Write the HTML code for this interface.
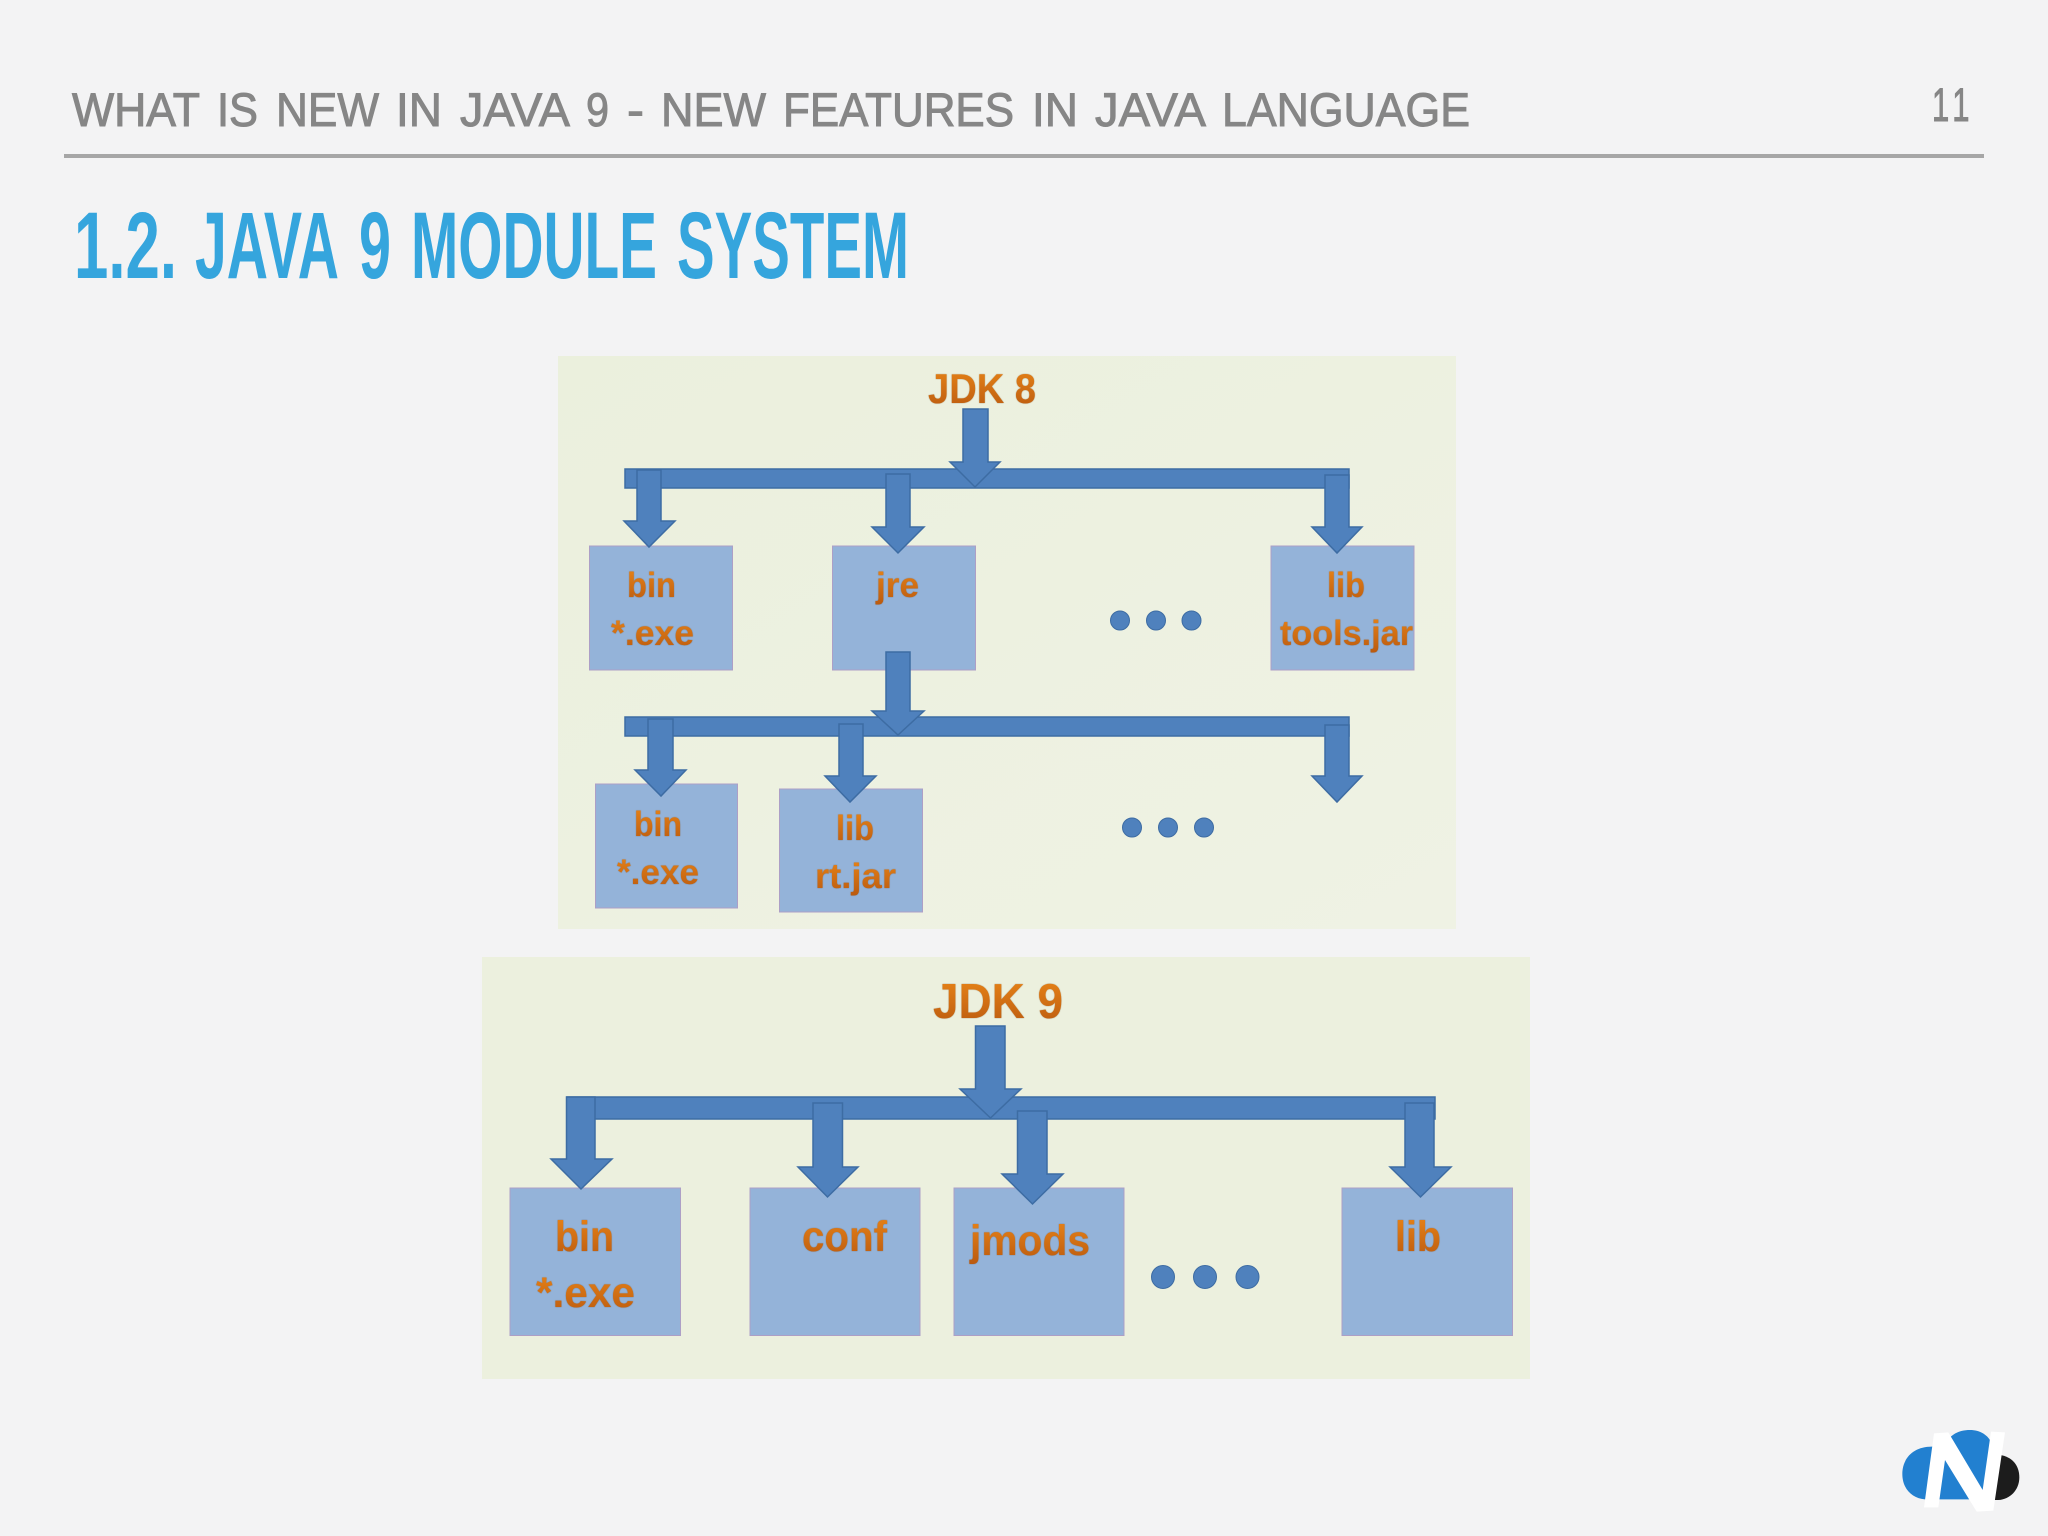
<!DOCTYPE html>
<html><head><meta charset="utf-8"><style>
html,body{margin:0;padding:0;background:#f3f3f4;width:2048px;height:1536px;overflow:hidden}
svg{display:block}
text{font-family:"Liberation Sans",sans-serif}
.h{font-size:47px;fill:#868686;stroke:#868686;stroke-width:1}
.t{font-size:95px;font-weight:bold;fill:#35a5dd}
.o{font-weight:bold;fill:url(#g);filter:drop-shadow(.8px .8px .5px rgba(110,60,15,.55))}
.a{fill:#4f81bd;stroke:#3d6ca3;stroke-width:1.5}
.b{fill:#94b3d9;stroke:#ad9fc6;stroke-width:1}
.d{fill:#4f81bd;stroke:#3d6ca3;stroke-width:1}
</style></head><body>
<svg width="2048" height="1536" viewBox="0 0 2048 1536" xmlns="http://www.w3.org/2000/svg">
<defs>
<linearGradient id="g" x1="0" y1="0" x2="0" y2="1"><stop offset="0" stop-color="#e98518"/><stop offset="1" stop-color="#b9590f"/></linearGradient>
<linearGradient id="p" x1="0" y1="0" x2="1" y2="1"><stop offset="0" stop-color="#ebf0dd"/><stop offset="1" stop-color="#eff2e4"/></linearGradient>
</defs>
<rect width="2048" height="1536" fill="#f3f3f4"/>
<text class="h" x="72" y="126" textLength="128" lengthAdjust="spacingAndGlyphs">WHAT</text>
<text class="h" x="217" y="126" textLength="41" lengthAdjust="spacingAndGlyphs">IS</text>
<text class="h" x="276" y="126" textLength="103" lengthAdjust="spacingAndGlyphs">NEW</text>
<text class="h" x="396" y="126" textLength="46" lengthAdjust="spacingAndGlyphs">IN</text>
<text class="h" x="460" y="126" textLength="110" lengthAdjust="spacingAndGlyphs">JAVA</text>
<text class="h" x="586" y="126" textLength="23" lengthAdjust="spacingAndGlyphs">9</text>
<text class="h" x="627" y="126" textLength="17" lengthAdjust="spacingAndGlyphs">-</text>
<text class="h" x="661" y="126" textLength="105" lengthAdjust="spacingAndGlyphs">NEW</text>
<text class="h" x="783" y="126" textLength="231" lengthAdjust="spacingAndGlyphs">FEATURES</text>
<text class="h" x="1032" y="126" textLength="46" lengthAdjust="spacingAndGlyphs">IN</text>
<text class="h" x="1095" y="126" textLength="111" lengthAdjust="spacingAndGlyphs">JAVA</text>
<text class="h" x="1222" y="126" textLength="248" lengthAdjust="spacingAndGlyphs">LANGUAGE</text>
<text class="h" transform="translate(1932 121) scale(.66 1)" x="0" y="0" style="letter-spacing:8px">11</text>
<rect x="64" y="154" width="1920" height="4" fill="#a6a6a6"/>
<text class="t" x="74" y="278" textLength="103" lengthAdjust="spacingAndGlyphs">1.2.</text>
<text class="t" x="195" y="278" textLength="144" lengthAdjust="spacingAndGlyphs">JAVA</text>
<text class="t" x="359" y="278" textLength="32" lengthAdjust="spacingAndGlyphs">9</text>
<text class="t" x="411" y="278" textLength="246" lengthAdjust="spacingAndGlyphs">MODULE</text>
<text class="t" x="677" y="278" textLength="232" lengthAdjust="spacingAndGlyphs">SYSTEM</text>

<!-- JDK 8 -->
<rect x="558" y="356" width="898" height="573" fill="url(#p)"/>
<rect class="b" x="589.500" y="546" width="143" height="124"/>
<rect class="b" x="832.500" y="546" width="143" height="124"/>
<rect class="b" x="1271" y="546" width="143" height="124"/>
<rect class="b" x="595.500" y="784" width="142" height="124"/>
<rect class="b" x="779.500" y="789" width="143" height="123"/>
<rect class="a" x="625" y="469" width="724" height="19"/>
<path class="a" d="M963 409H988V462H1000L975 487L950 462H963Z"/>
<path class="a" d="M637 470H661V521H675L649 547L624 521H637Z"/>
<path class="a" d="M886 474H910V527H924L898 553L872 527H886Z"/>
<path class="a" d="M1325 475H1349V527H1362L1337 553L1312 527H1325Z"/>
<rect class="a" x="625" y="717" width="724" height="19"/>
<path class="a" d="M886 652H910V711H924L898 735L872 711H886Z"/>
<path class="a" d="M648 719H673V770H686L661 796L635 770H648Z"/>
<path class="a" d="M839 724H863V776H876L850 802L825 776H839Z"/>
<path class="a" d="M1325 725H1349V776H1362L1337 802L1312 776H1325Z"/>
<circle class="d" cx="1120" cy="620.500" r="9.500"/><circle class="d" cx="1156" cy="620.500" r="9.500"/><circle class="d" cx="1191.500" cy="620.500" r="9.500"/>
<circle class="d" cx="1132" cy="827.500" r="9.500"/><circle class="d" cx="1168" cy="827.500" r="9.500"/><circle class="d" cx="1204" cy="827.500" r="9.500"/>
<text class="o" x="928" y="403" font-size="42" textLength="108" lengthAdjust="spacingAndGlyphs">JDK 8</text>
<text class="o" x="627" y="597" font-size="35" textLength="49" lengthAdjust="spacingAndGlyphs">bin</text>
<text class="o" x="611" y="645" font-size="35" textLength="83" lengthAdjust="spacingAndGlyphs">*.exe</text>
<text class="o" x="876" y="597" font-size="35" textLength="43" lengthAdjust="spacingAndGlyphs">jre</text>
<text class="o" x="1327" y="597" font-size="35" textLength="38" lengthAdjust="spacingAndGlyphs">lib</text>
<text class="o" x="1280" y="645" font-size="35" textLength="133" lengthAdjust="spacingAndGlyphs">tools.jar</text>
<text class="o" x="634" y="836" font-size="35" textLength="48" lengthAdjust="spacingAndGlyphs">bin</text>
<text class="o" x="617" y="884" font-size="35" textLength="82" lengthAdjust="spacingAndGlyphs">*.exe</text>
<text class="o" x="836" y="840" font-size="35" textLength="38" lengthAdjust="spacingAndGlyphs">lib</text>
<text class="o" x="815" y="888" font-size="35" textLength="81" lengthAdjust="spacingAndGlyphs">rt.jar</text>

<!-- JDK 9 -->
<rect x="482" y="957" width="1048" height="422" fill="#ecf0de"/>
<rect class="b" x="510" y="1188" width="170.500" height="147.500"/>
<rect class="b" x="750" y="1188" width="170" height="147.500"/>
<rect class="b" x="954" y="1188" width="170" height="147.500"/>
<rect class="b" x="1342" y="1188" width="170.500" height="147.500"/>
<rect class="a" x="567" y="1097" width="868" height="22"/>
<path class="a" d="M975.500 1026H1005V1089H1021L990.500 1118L960 1089H975.500Z"/>
<path class="a" d="M566.500 1097H595V1159H612L581 1189L551 1159H566.500Z"/>
<path class="a" d="M813 1103H842.500V1167H858L827.500 1197L798 1167H813Z"/>
<path class="a" d="M1017.500 1111H1047V1174H1063L1032.500 1204L1002 1174H1017.500Z"/>
<path class="a" d="M1405 1103H1434V1167H1451L1420.500 1197L1390 1167H1405Z"/>
<circle class="d" cx="1163" cy="1277" r="11.500"/><circle class="d" cx="1205" cy="1277" r="11.500"/><circle class="d" cx="1247.500" cy="1277" r="11.500"/>
<text class="o" x="933" y="1018" font-size="49" textLength="130" lengthAdjust="spacingAndGlyphs">JDK 9</text>
<text class="o" x="555" y="1251" font-size="43" textLength="59" lengthAdjust="spacingAndGlyphs">bin</text>
<text class="o" x="536" y="1307" font-size="43" textLength="99" lengthAdjust="spacingAndGlyphs">*.exe</text>
<text class="o" x="802" y="1251" font-size="43" textLength="85" lengthAdjust="spacingAndGlyphs">conf</text>
<text class="o" x="970" y="1255" font-size="43" textLength="120" lengthAdjust="spacingAndGlyphs">jmods</text>
<text class="o" x="1395" y="1251" font-size="43" textLength="46" lengthAdjust="spacingAndGlyphs">lib</text>

<!-- logo -->
<g transform="translate(1860 1400) scale(.33333)">
<path fill="#1c1c1c" d="M400 165H420C455 170 478 195 478 232C478 270 450 298 415 300H395Z"/>
<path fill="#2280d0" d="M215 140C160 140 127 175 127 222C127 265 155 295 195 298H400L395 130C385 105 360 90 330 90C295 90 270 105 258 130Z"/>
<path fill="#fff" d="M192 322L222 100L265 97L368 270L393 95L435 97L400 332L350 335L255 180L235 322Z"/>
</g>
</svg>
</body></html>
